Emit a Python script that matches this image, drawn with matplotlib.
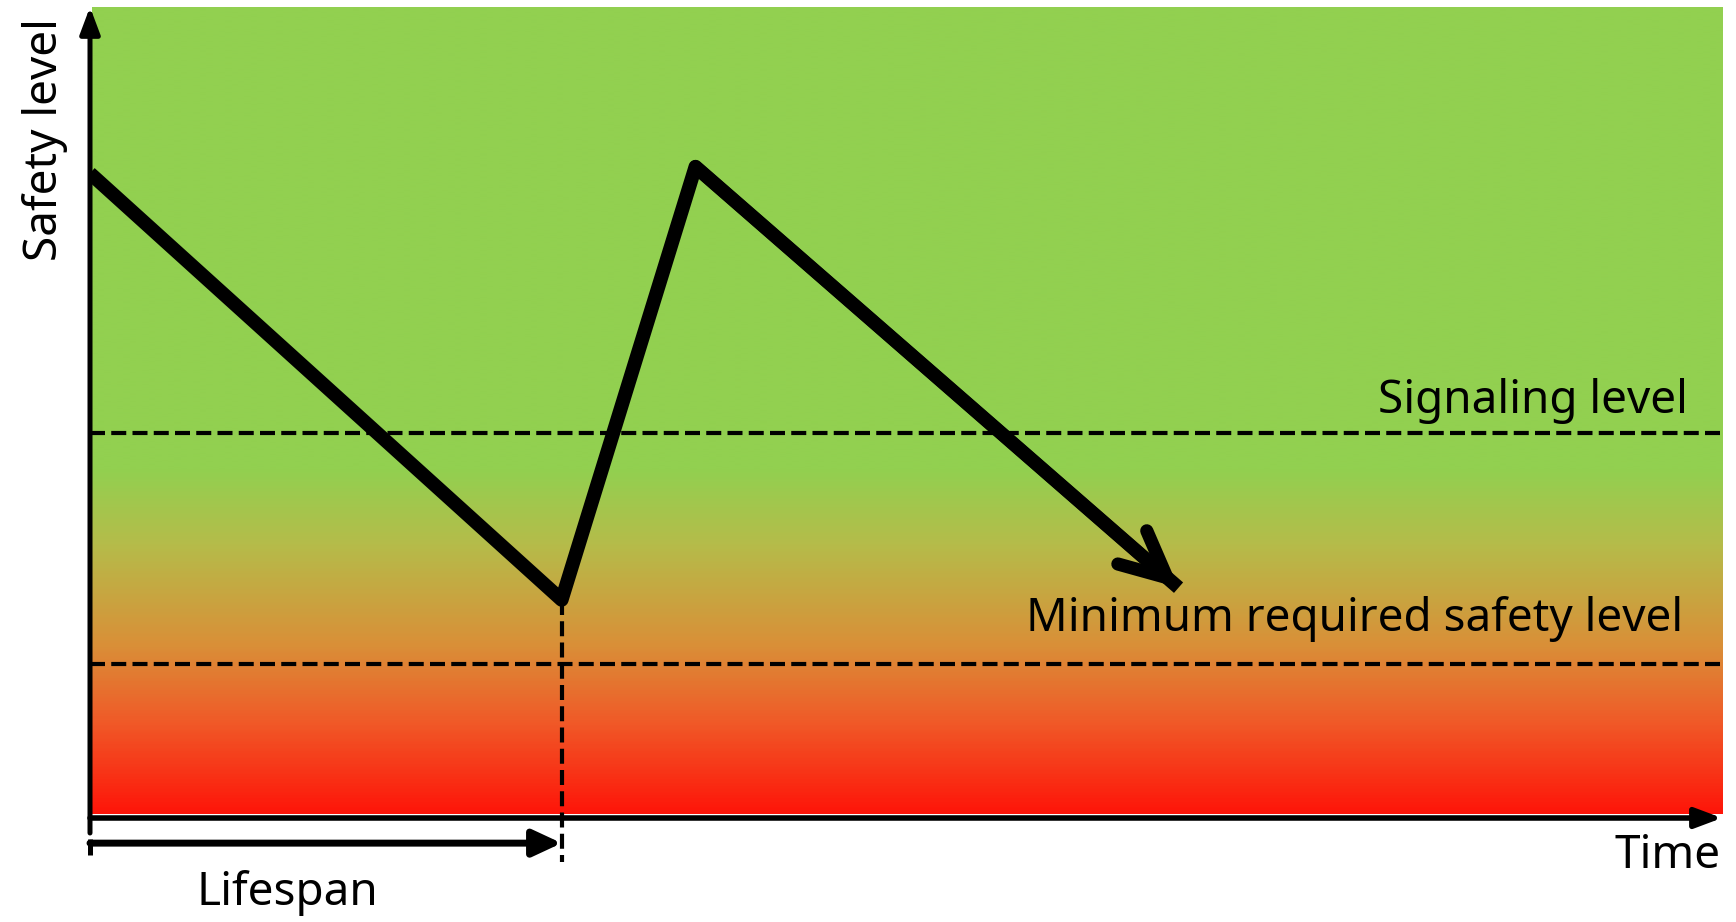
import numpy as np
import matplotlib
matplotlib.use('Agg')
import matplotlib.pyplot as plt
from matplotlib.colors import LinearSegmentedColormap

# ---- data ----
time_pts = [0.0, 28.9, 37.1, 66.7]
safety_pts = [79.5, 26.9, 80.3, 28.4]
signaling_level = 47.5
minimum_level = 19.0
lifespan_end = time_pts[1]
grad_levels = [0.0, 11.7, 21.3, 33.7, 42.9, 100.0]
grad_colors = ['#FF1308', '#F05A28', '#D99038', '#B5BC4A', '#92D050', '#92D050']
labels = {
    'y': 'Safety level',
    'x': 'Time',
    'signal': 'Signaling level',
    'minimum': 'Minimum required safety level',
    'life': 'Lifespan',
}

plt.rcParams['font.family'] = ['Noto Sans', 'DejaVu Sans']
FS = 33

W, H = 1736, 922
fig = plt.figure(figsize=(W / 100, H / 100), dpi=100)
ax = fig.add_axes([90 / W, 1 - 818 / H, 1632 / W, 811 / H])
ax.set_xlim(0, 100)
ax.set_ylim(0, 100)
ax.axis('off')

# gradient background
cmap = LinearSegmentedColormap.from_list(
    'safety', [(l / 100.0, c) for l, c in zip(grad_levels, grad_colors)])
grad = np.linspace(0.5, 100, 600).reshape(-1, 1)
ax.imshow(grad, extent=(0.1, 100, 0.5, 100), origin='lower', aspect='auto',
          cmap=cmap, vmin=0, vmax=100, interpolation='bilinear', zorder=0)

dash = (0, (3.6, 1.5))
# level lines
ax.plot([0, 100], [signaling_level] * 2, color='k', lw=3.0, ls=dash, zorder=2)
ax.plot([0, 100], [minimum_level] * 2, color='k', lw=3.0, ls=dash, zorder=2)
ax.plot([lifespan_end] * 2, [safety_pts[1], -5.4], color='k', lw=3.0, ls=dash,
        zorder=2, clip_on=False)

# safety curve
ax.plot(time_pts, safety_pts, color='k', lw=10, solid_joinstyle='round',
        solid_capstyle='butt', zorder=3)
ax.annotate('', xy=(time_pts[-1], safety_pts[-1]),
            xytext=(time_pts[-2], safety_pts[-2]),
            arrowprops=dict(arrowstyle='->,head_length=0.46,head_width=0.22',
                            lw=9.5, color='k', shrinkA=0, shrinkB=0,
                            mutation_scale=72, capstyle='round',
                            joinstyle='round'), zorder=3)

# axes arrows
ax.annotate('', xy=(0, 100), xytext=(0, -1.85), annotation_clip=False,
            arrowprops=dict(arrowstyle='-|>,head_length=0.4,head_width=0.15',
                            lw=3.6, color='k', shrinkA=0, shrinkB=0,
                            mutation_scale=40, clip_on=False), zorder=4)
ax.annotate('', xy=(100, 0), xytext=(0, 0), annotation_clip=False,
            arrowprops=dict(arrowstyle='-|>,head_length=0.4,head_width=0.15',
                            lw=4.0, color='k', shrinkA=0, shrinkB=0,
                            mutation_scale=40, clip_on=False), zorder=4)

# lifespan arrow
ax.annotate('', xy=(lifespan_end, -3.1), xytext=(0, -3.1), annotation_clip=False,
            arrowprops=dict(arrowstyle='-|>,head_length=0.43,head_width=0.2',
                            lw=5.0, color='k', shrinkA=0, shrinkB=0,
                            mutation_scale=40, clip_on=False), zorder=4)
ax.plot([0, 0], [-2.6, -4.6], color='k', lw=3.6, clip_on=False,
        solid_capstyle='butt', zorder=4)

# texts
ax.text(97.9, 49.9, labels['signal'], ha='right', va='baseline', fontsize=FS)
ax.text(97.6, 23.1, labels['minimum'], ha='right', va='baseline', fontsize=FS)
ax.text(99.9, -6.2, labels['x'], ha='right', va='baseline', fontsize=FS,
        clip_on=False)
ax.text(12.1, -10.7, labels['life'], ha='center', va='baseline', fontsize=FS,
        clip_on=False)
fig.text(45 / W, 1 - 140 / H, labels['y'], rotation=90, ha='center',
         va='center', fontsize=FS)

fig.savefig('out.png', dpi=100)
